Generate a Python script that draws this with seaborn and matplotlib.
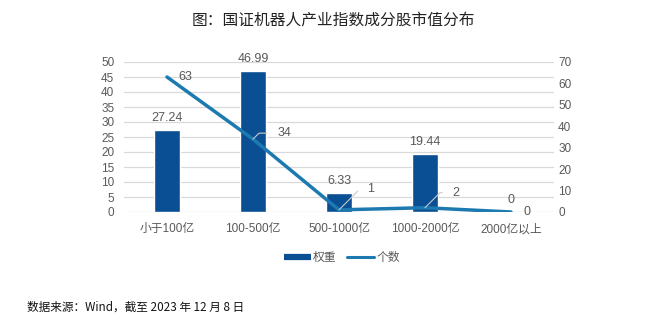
import matplotlib
matplotlib.use("Agg")
import matplotlib.pyplot as plt
import seaborn as sns
import numpy as np
import pandas as pd
from matplotlib.lines import Line2D

# 市值区间与两组数据
categories = ["小于100亿", "100-500亿", "500-1000亿", "1000-2000亿", "2000亿以上"]
weights = [27.24, 46.99, 6.33, 19.44, 0]      # 权重（%）
counts = [63, 34, 1, 2, 0]                     # 个数
left_ticks = list(range(0, 55, 5))
right_ticks = list(range(0, 80, 10))

title = "图：国证机器人产业指数成分股市值分布"
source = "数据来源：Wind，截至 2023 年 12 月 8 日"

sns.set_theme(style="white")
plt.rcParams["font.family"] = ["Liberation Sans", "Noto Sans CJK SC", "DejaVu Sans"]
CJK = ["Noto Sans CJK SC", "DejaVu Sans"]

BAR = "#0A4E93"
LINE = "#1D7AB1"
GRID = "#D9D9D9"
TXT = "#595959"
FS = 8.5

df = pd.DataFrame({"区间": categories, "权重": weights, "个数": counts})
df["pos"] = np.arange(len(df))

fig = plt.figure(figsize=(6.51, 3.24), dpi=100)
ax = fig.add_axes([124 / 651, 1 - 212 / 324, 430 / 651, 150 / 324])

sns.barplot(data=df, x="区间", y="权重", color=BAR, width=0.31,
            saturation=1, ax=ax, zorder=2)
ax.set_ylim(0, 50)
ax.set_yticks(left_ticks)
ax.set_xlim(-0.5, len(categories) - 0.5)
ax.yaxis.grid(True, color=GRID, linewidth=0.9, zorder=0)
ax.set_axisbelow(True)
for s in ax.spines.values():
    s.set_visible(False)
ax.tick_params(axis="y", length=0, pad=7, labelsize=FS, labelcolor=TXT)
ax.tick_params(axis="x", length=0, pad=8, labelsize=FS, labelcolor=TXT)
ax.set_xlabel("")
ax.set_ylabel("")

# 柱顶数值标签
for i, v in enumerate(weights):
    ax.annotate(f"{v:g}" if v == 0 else f"{v:.2f}", xy=(i, v),
                xytext=(0, 12), textcoords="offset pixels",
                ha="center", va="center", fontsize=FS + 0.5, color=TXT)

ax2 = ax.twinx()
sns.lineplot(data=df, x="pos", y="个数", color=LINE, linewidth=2.5,
             ax=ax2, zorder=3)
ax2.set_ylim(0, 70)
ax2.set_yticks(right_ticks)
for s in ax2.spines.values():
    s.set_visible(False)
ax2.tick_params(axis="y", length=0, pad=3, labelsize=FS, labelcolor=TXT)
ax2.set_ylabel("")
ax2.set_xlabel("")
ax2.set_xlim(-0.5, len(categories) - 0.5)

# 折线数值标签（带引导线）
offsets = [(18, 0), (31, 6), (32, 21), (31, 15), (16, 0)]
leaders = [False, True, True, True, False]
for i, (c, off, lead) in enumerate(zip(counts, offsets, leaders)):
    kw = {}
    if lead:
        kw["arrowprops"] = dict(arrowstyle="-", color="#C9C9C9", lw=0.8,
                                shrinkA=5, shrinkB=0,
                                connectionstyle="angle,angleA=180,angleB=45,rad=0")
    ax2.annotate(str(c), xy=(i, c), xytext=off, textcoords="offset pixels",
                 ha="center", va="center", fontsize=FS + 0.5, color=TXT, **kw)

handles = [Line2D([0], [0], color=BAR, lw=4.5, solid_capstyle="butt"),
           Line2D([0], [0], color=LINE, lw=2.2)]
fig.legend(handles, ["权重", "个数"], loc="center", ncol=2,
           bbox_to_anchor=(342 / 651, 1 - 258 / 324), frameon=False,
           fontsize=FS, labelcolor=TXT, handlelength=2.3,
           handletextpad=0.15, columnspacing=0.9)

fig.text(333 / 651, 1 - 20 / 324, title, ha="center", va="center",
         fontsize=11.3, color="#222222", family=CJK)
fig.text(27 / 651, 1 - 307 / 324, source, ha="left", va="center",
         fontsize=8.4, color="#111111", family=CJK)

fig.savefig("out.png", dpi=100)
